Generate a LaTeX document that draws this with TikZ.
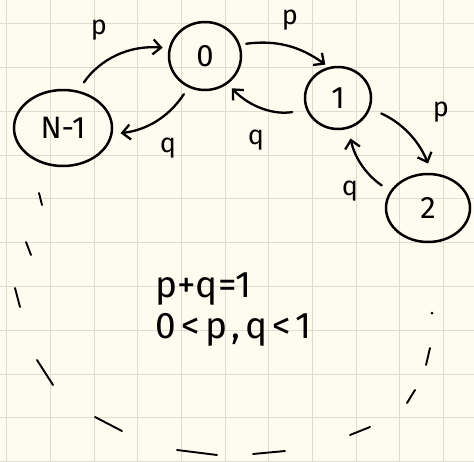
\documentclass[tikz,border=0pt]{standalone}
\usepackage{fontspec}
\setmainfont{Fira Sans}
\usetikzlibrary{arrows.meta,shapes.geometric}
\definecolor{paper}{HTML}{FDFCEF}
\definecolor{gridc}{HTML}{DEDCD0}
\begin{document}
\begin{tikzpicture}[x=1pt,y=-1pt,
  state/.style={draw, ellipse, line width=2.5pt, inner sep=0pt, font=\fontsize{31}{36}\selectfont},
  trans/.style={line width=2.3pt, line cap=round, -{Straight Barb[length=8pt,width=15pt,line width=2.3pt]}},
  lab/.style={font=\fontsize{27}{32}\selectfont},
  eq/.style={font=\fontsize{37}{44}\selectfont, anchor=base west},
  dashmark/.style={line width=1.9pt, line cap=round},
  gridline/.style={gridc, line width=0.8pt}]
\fill[paper] (0,0) rectangle (474,461);
\useasboundingbox (0,0) rectangle (474,461);
\foreach \i in {0,...,10} {
  \draw[gridline] ({6.5+43.7*\i},0) -- ++(0,461);
  \draw[gridline] (0,{23.5+43.8*\i}) -- ++(474,0);
}
% states
\node[state, minimum width=72pt, minimum height=68pt] (n0) at (205,56) {0};
\node[state, minimum width=98pt, minimum height=76pt] (nm1) at (63,128) {N-1};
\node[state, minimum width=66pt, minimum height=62pt] (n1) at (338,98) {1};
\node[state, minimum width=84pt, minimum height=68pt] (n2) at (428,208) {2};
% transitions
\draw[trans, shorten <=10pt, shorten >=6pt] (nm1.68) to[bend left=30] (n0.168);
\draw[trans, shorten <=8pt, shorten >=8pt] (n0.242) to[bend left=25] (nm1.353);
\draw[trans, shorten <=6pt, shorten >=4pt] (n0.18) to[bend left=22] (n1.107);
\draw[trans, shorten <=14pt, shorten >=6pt] (n1.200) to[bend left=28] (n0.309);
\draw[trans, shorten <=12pt, shorten >=10pt] (n1.-18) to[bend left=22] (n2.84);
\draw[trans, shorten <=10pt, shorten >=10pt] (n2.156) to[bend left=22] (n1.289);
% labels
\node[lab] (l1) at (99,30) {p};
\node[lab] (l2) at (168,148) {q};
\node[lab] (l3) at (290,20) {p};
\node[lab] (l4) at (256,140) {q};
\node[lab] (l5) at (441,112) {p};
\node[lab] (l6) at (350,191) {q};
% dashed ring
\draw[dashmark] (39,193) -- (42,205);
\draw[dashmark] (26,242) -- (31,255);
\draw[dashmark] (15,288) -- (20,307);
\draw[dashmark] (37,360) -- (53,385);
\draw[dashmark] (95,417) -- (122,431);
\draw[dashmark] (177,450) -- (217,455);
\draw[dashmark] (253,454) -- (285,451);
\draw[dashmark] (350,435) -- (370,427);
\draw[dashmark] (407,403) -- (415,390);
\draw[dashmark] (426,365) -- (430,348);
\fill (432,313) circle (1.5pt);
% equations
\node[eq] (eq1) at (152,297) {p+q=1};
\node[eq] (eq2) at (152,338) {\addfontfeatures{LetterSpace=14}0<p,q<1};
\end{tikzpicture}
\end{document}
